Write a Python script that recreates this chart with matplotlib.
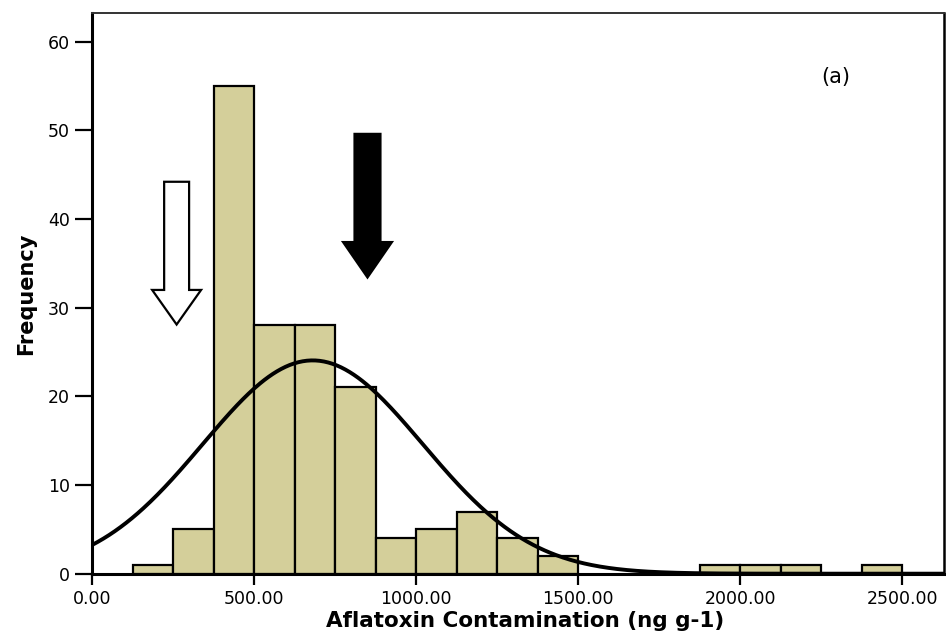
import numpy as np
import matplotlib
matplotlib.use("Agg")
import matplotlib.pyplot as plt
from matplotlib.patches import FancyArrow

# Histogram of aflatoxin contamination (bins of 125 ng/g)
bin_starts = [125, 250, 375, 500, 625, 750, 875, 1000, 1125, 1250, 1375,
              1500, 1625, 1750, 1875, 2000, 2125, 2250, 2375]
counts = [1, 5, 55, 28, 28, 21, 4, 5, 7, 4, 2,
          0, 0, 0, 1, 1, 1, 0, 1]
bin_width = 125

# Fitted normal curve parameters
fit_mean = 681.0
fit_sd = 340.0

x_ticks = [0, 500, 1000, 1500, 2000, 2500]
x_tick_labels = ["0.00", "500.00", "1000.00", "1500.00", "2000.00", "2500.00"]
y_ticks = [0, 10, 20, 30, 40, 50, 60]

# Marker arrows: (x, y_top, y_tip, shaft width, head width, head length)
open_arrow = (261, 44.2, 28.1, 77, 151, 3.9)
solid_arrow = (850, 49.6, 33.4, 80, 151, 4.0)

bar_color = "#D4CF9A"

fig = plt.figure(figsize=(9.46, 6.33), dpi=100)
ax = fig.add_axes([0.0973, 0.0937, 0.9009, 0.8853])

starts = [s for s, c in zip(bin_starts, counts) if c > 0]
heights = [c for c in counts if c > 0]
ax.bar(starts, heights, width=bin_width, align="edge", color=bar_color,
       edgecolor="black", linewidth=1.6, zorder=2)

n_total = sum(counts)
xs = np.linspace(0, 2630, 600)
ys = n_total * bin_width / (fit_sd * np.sqrt(2 * np.pi)) * np.exp(-0.5 * ((xs - fit_mean) / fit_sd) ** 2)
ax.plot(xs, ys, color="black", linewidth=2.8, zorder=3, solid_capstyle="butt")

for (ax_x, y_top, y_tip, w, hw, hl), face in [(open_arrow, "white"), (solid_arrow, "black")]:
    arr = FancyArrow(ax_x, y_top, 0, y_tip - y_top, width=w, head_width=hw,
                     head_length=hl, length_includes_head=True,
                     facecolor=face, edgecolor="black", linewidth=1.6, zorder=4)
    ax.add_patch(arr)

ax.set_xlim(0, 2630)
ax.set_ylim(0, 63.2)
ax.set_xticks(x_ticks)
ax.set_xticklabels(x_tick_labels)
ax.set_yticks(y_ticks)

ax.tick_params(axis="y", direction="out", length=12, width=1.6, pad=4, labelsize=12.5)
ax.tick_params(axis="x", direction="out", length=8, width=1.6, pad=3.5, labelsize=12.5)
for lbl in ax.get_xticklabels() + ax.get_yticklabels():
    lbl.set_family("DejaVu Sans")

ax.spines["left"].set_linewidth(2.2)
ax.spines["bottom"].set_linewidth(2.2)
ax.spines["right"].set_linewidth(1.8)
ax.spines["top"].set_linewidth(1.4)
ax.spines["top"].set_color("#333333")

ax.set_xlabel("Aflatoxin Contamination (ng g-1)", fontsize=15.5, fontweight="bold",
              family="DejaVu Sans")
ax.xaxis.set_label_coords(0.508, -0.067)
ax.xaxis.label.set_va("top")
ax.set_ylabel("Frequency", fontsize=15, fontweight="bold",
              family="DejaVu Sans")
ax.yaxis.set_label_coords(-0.066, 0.5)

ax.text(2296, 56.0, "(a)", fontsize=15, ha="center", va="center", family="DejaVu Sans")

fig.savefig("out.png", dpi=100)
